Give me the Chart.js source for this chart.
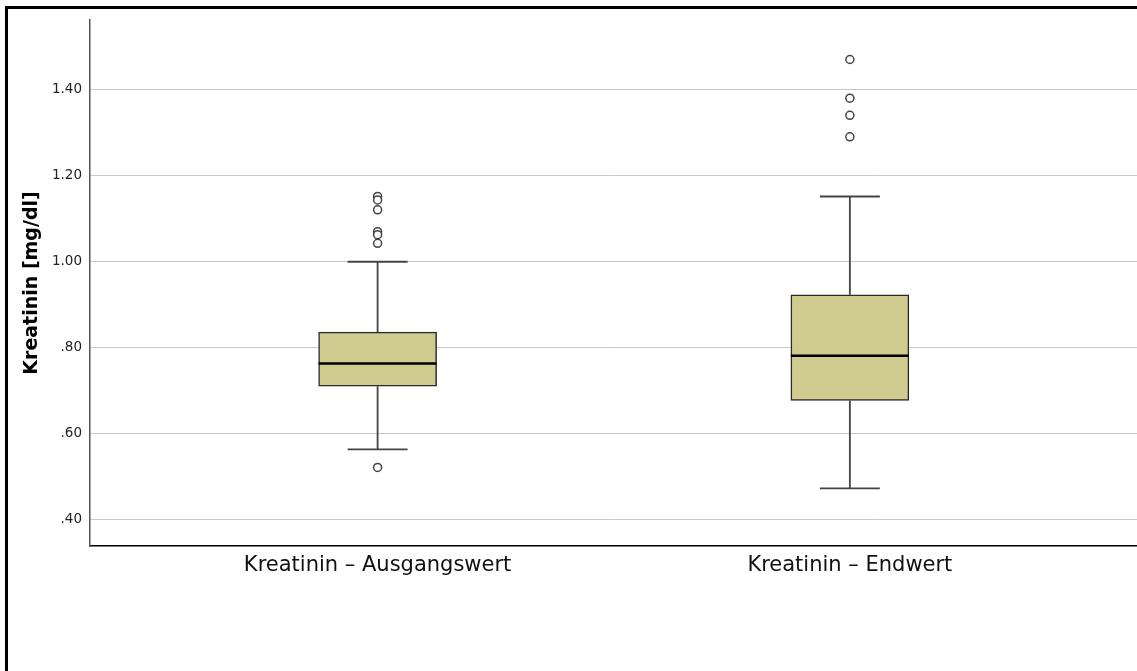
<!DOCTYPE html>
<html>
<head>
<meta charset="utf-8">
<script src="https://cdn.jsdelivr.net/npm/chart.js@4/dist/chart.umd.min.js"></script>
<style>
  body { margin: 0; background: #fff; }
  #wrap { position: relative; width: 1137px; height: 671px; overflow: hidden; }
  #frame { position: absolute; left: 5px; top: 6px; width: 1200px; height: 700px;
           border-top: 3px solid #000; border-left: 3px solid #000; pointer-events: none; }
</style>
</head>
<body>
<div id="wrap">
  <canvas id="myChart" width="1137" height="671"></canvas>
  <div id="frame"></div>
</div>
<script>
const categories = ["Kreatinin \u2013 Ausgangswert", "Kreatinin \u2013 Endwert"];
const q1 = [0.710, 0.677];
const q3 = [0.836, 0.923];
const medians = [0.763, 0.781];
const whiskerLow = [0.563, 0.472];
const whiskerHigh = [1.000, 1.152];
const outliers = [
  [1.152, 1.144, 1.121, 1.070, 1.063, 1.043, 0.521],
  [1.471, 1.381, 1.341, 1.291]
];
const yTicks = [0.4, 0.6, 0.8, 1.0, 1.2, 1.4];

const boxData = categories.map((c, i) => ({ x: i, y: [q1[i], q3[i]] }));
const outlierData = [];
outliers.forEach((list, i) => list.forEach(v => outlierData.push({ x: i, y: v })));

// whiskers + medians drawn from the scales
const boxLines = {
  id: "boxLines",
  beforeDatasetsDraw(chart) {
    const { ctx, scales: { x, y } } = chart;
    ctx.save();
    ctx.strokeStyle = "#444";
    ctx.lineWidth = 1.8;
    categories.forEach((c, i) => {
      const cx = x.getPixelForValue(i);
      const cap = 30;
      ctx.beginPath();
      ctx.moveTo(cx, y.getPixelForValue(q3[i]));
      ctx.lineTo(cx, y.getPixelForValue(whiskerHigh[i]));
      ctx.moveTo(cx, y.getPixelForValue(q1[i]));
      ctx.lineTo(cx, y.getPixelForValue(whiskerLow[i]));
      ctx.moveTo(cx - cap, y.getPixelForValue(whiskerHigh[i]));
      ctx.lineTo(cx + cap, y.getPixelForValue(whiskerHigh[i]));
      ctx.moveTo(cx - cap, y.getPixelForValue(whiskerLow[i]));
      ctx.lineTo(cx + cap, y.getPixelForValue(whiskerLow[i]));
      ctx.stroke();
    });
    ctx.restore();
  },
  afterDatasetsDraw(chart) {
    const { ctx, scales: { x, y } } = chart;
    const bar = chart.getDatasetMeta(0).data;
    ctx.save();
    ctx.strokeStyle = "#000";
    ctx.lineWidth = 2.5;
    categories.forEach((c, i) => {
      const half = bar[i].width / 2;
      const cx = x.getPixelForValue(i);
      const my = y.getPixelForValue(medians[i]);
      ctx.beginPath();
      ctx.moveTo(cx - half, my);
      ctx.lineTo(cx + half, my);
      ctx.stroke();
    });
    ctx.restore();
  }
};

new Chart("myChart", {
  type: "bar",
  data: {
    datasets: [{
      type: "bar",
      data: boxData,
      backgroundColor: "#d0cb8f",
      borderColor: "#2a2a2a",
      borderWidth: 1.5,
      borderSkipped: false,
      barThickness: 118
    }, {
      type: "scatter",
      data: outlierData,
      pointRadius: 4,
      pointBorderWidth: 1.5,
      pointBorderColor: "#444",
      pointBackgroundColor: "#fff"
    }]
  },
  options: {
    responsive: false,
    animation: false,
    layout: { autoPadding: false, padding: { top: 20, right: 0, bottom: 0, left: 0 } },
    plugins: { legend: { display: false }, tooltip: { enabled: false } },
    scales: {
      x: {
        type: "linear",
        offset: false,
        min: -0.609,
        max: 1.608,
        afterBuildTicks: s => { s.ticks = categories.map((c, i) => ({ value: i })); },
        afterFit: s => { s.height = 125; s.paddingRight = 0; s.paddingLeft = 0; },
        grid: { display: false, drawTicks: false },
        border: { color: "#000", width: 1.5 },
        ticks: {
          padding: 7,
          color: "#111",
          maxRotation: 0,
          font: { family: "DejaVu Sans", size: 21 },
          callback: v => categories[v]
        }
      },
      y: {
        min: 0.338,
        max: 1.563,
        afterBuildTicks: s => { s.ticks = yTicks.map(v => ({ value: v })); },
        afterFit: s => { s.width = 90; },
        grid: { color: "#c8c8c8", lineWidth: 1, drawTicks: false },
        border: { color: "#555", width: 1.5 },
        ticks: {
          padding: 8,
          color: "#222",
          font: { family: "DejaVu Sans", size: 13.5 },
          callback: v => v.toFixed(2).replace(/^0/, "")
        },
        title: {
          display: true,
          text: "Kreatinin [mg/dl]",
          color: "#000",
          font: { family: "DejaVu Sans", size: 19, weight: "bold" },
          padding: { top: 21, bottom: 0 }
        }
      }
    }
  },
  plugins: [boxLines]
});
</script>
</body>
</html>
